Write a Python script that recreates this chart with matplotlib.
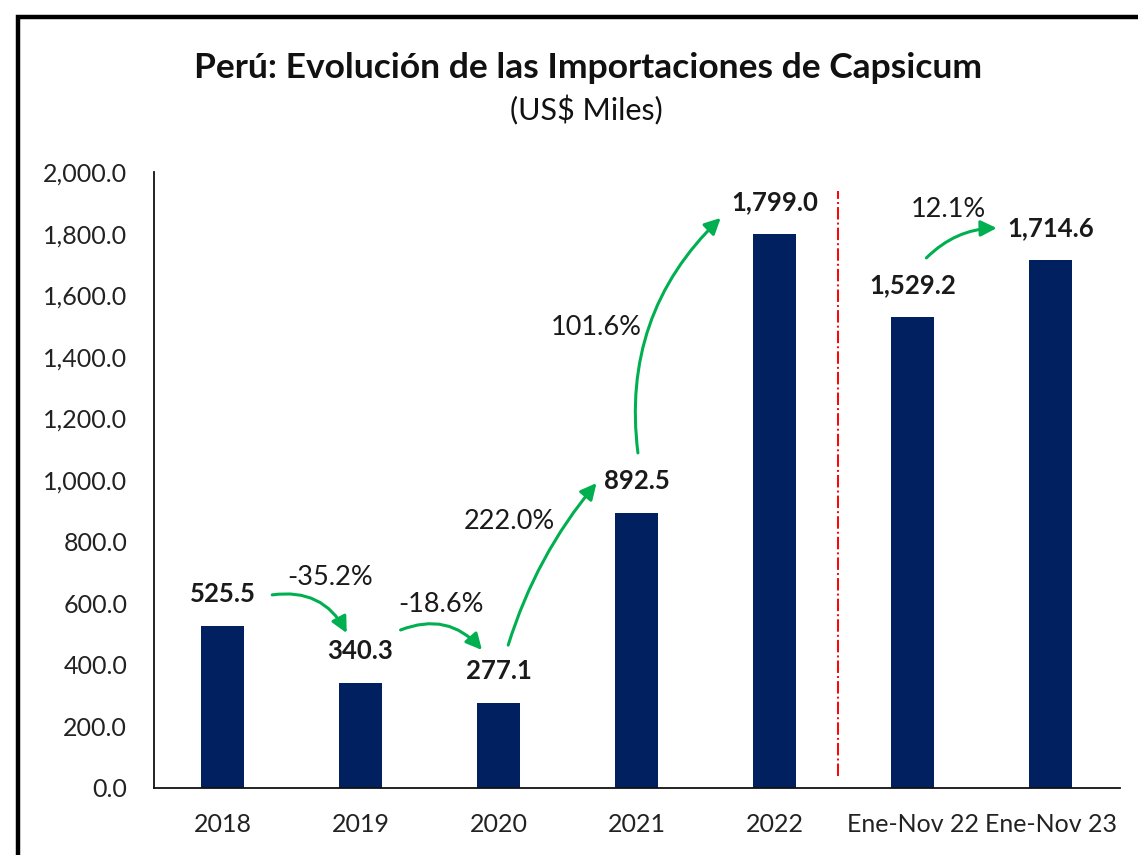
import matplotlib
matplotlib.use("Agg")
import matplotlib.pyplot as plt
from matplotlib.patches import Rectangle
from matplotlib.ticker import FuncFormatter

plt.rcParams['font.family'] = ['Lato', 'DejaVu Sans']

# ---- data ----
categories = ["2018", "2019", "2020", "2021", "2022", "Ene-Nov 22", "Ene-Nov 23"]
values = [525.5, 340.3, 277.1, 892.5, 1799.0, 1529.2, 1714.6]
growth_labels = ["-35.2%", "-18.6%", "222.0%", "101.6%", "12.1%"]
y_ticks = [0, 200, 400, 600, 800, 1000, 1200, 1400, 1600, 1800, 2000]

# ---- layout (arrow geometry in data coords) ----
arrow_layout = [
    # (start, end, rad, label position)
    ((0.36, 627), (0.90, 503), -0.35, (0.78, 685)),
    ((1.29, 513), (1.88, 448), -0.35, (1.58, 597)),
    ((2.07, 464), (2.71, 990), -0.10, (2.08, 864)),
    ((3.01, 1088), (3.61, 1851), -0.25, (2.71, 1494)),
    ((5.10, 1721), (5.61, 1818), -0.20, (5.26, 1877)),
]

navy = "#002060"
green = "#00B050"

fig = plt.figure(figsize=(11.38, 8.55), dpi=100)
ax = fig.add_axes([0.1349, 0.0784, 0.8489, 0.7204])

x = list(range(len(categories)))
bars = ax.bar(x, values, width=0.31, color=navy, zorder=2)

ax.set_xlim(-0.5, len(categories) - 0.5)
ax.set_ylim(0, 2000)
ax.set_yticks(y_ticks)
ax.yaxis.set_major_formatter(FuncFormatter(lambda v, p: f"{v:,.1f}"))
ax.set_xticks(x)
ax.set_xticklabels(categories)
ax.tick_params(axis='both', length=0, labelsize=18, colors='#222222')
ax.tick_params(axis='x', pad=18)
ax.tick_params(axis='y', pad=19)
for s in ['top', 'right']:
    ax.spines[s].set_visible(False)
for s in ['left', 'bottom']:
    ax.spines[s].set_linewidth(1.3)
    ax.spines[s].set_color('#111111')

# value labels
for xi, v in zip(x, values):
    ax.annotate(f"{v:,.1f}", xy=(xi, v), xytext=(0, 23), textcoords='offset points',
                ha='center', va='center', fontsize=18.5, fontweight='bold', color='#1a1a1a')

# divider
ax.plot([4.46, 4.46], [40, 1940], color='red', linestyle='-.', lw=1.4, zorder=1)

# growth arrows
for (start, end, rad, lpos), g in zip(arrow_layout, growth_labels):
    ax.annotate('', xy=end, xytext=start,
                arrowprops=dict(arrowstyle='-|>', color=green, lw=2.2,
                                connectionstyle=f'arc3,rad={rad}', mutation_scale=24,
                                shrinkA=0, shrinkB=0))
    ax.text(lpos[0], lpos[1], g, ha='center', va='center', fontsize=19.5, color='#1a1a1a')

# titles
fig.text(0.517, 0.920, "Perú: Evolución de las Importaciones de Capsicum",
         ha='center', va='center', fontsize=25.5, fontweight='bold', color='#111111')
fig.text(0.515, 0.871, "(US$ Miles)", ha='center', va='center', fontsize=22, color='#111111')

# outer border
fig.patches.append(Rectangle((18 / 1138, -0.1), 1.2, 1.08 - 17 / 855 + 0.02,
                             transform=fig.transFigure, fill=False, edgecolor='black',
                             linewidth=3.2, figure=fig))

fig.savefig("out.png", dpi=100)
